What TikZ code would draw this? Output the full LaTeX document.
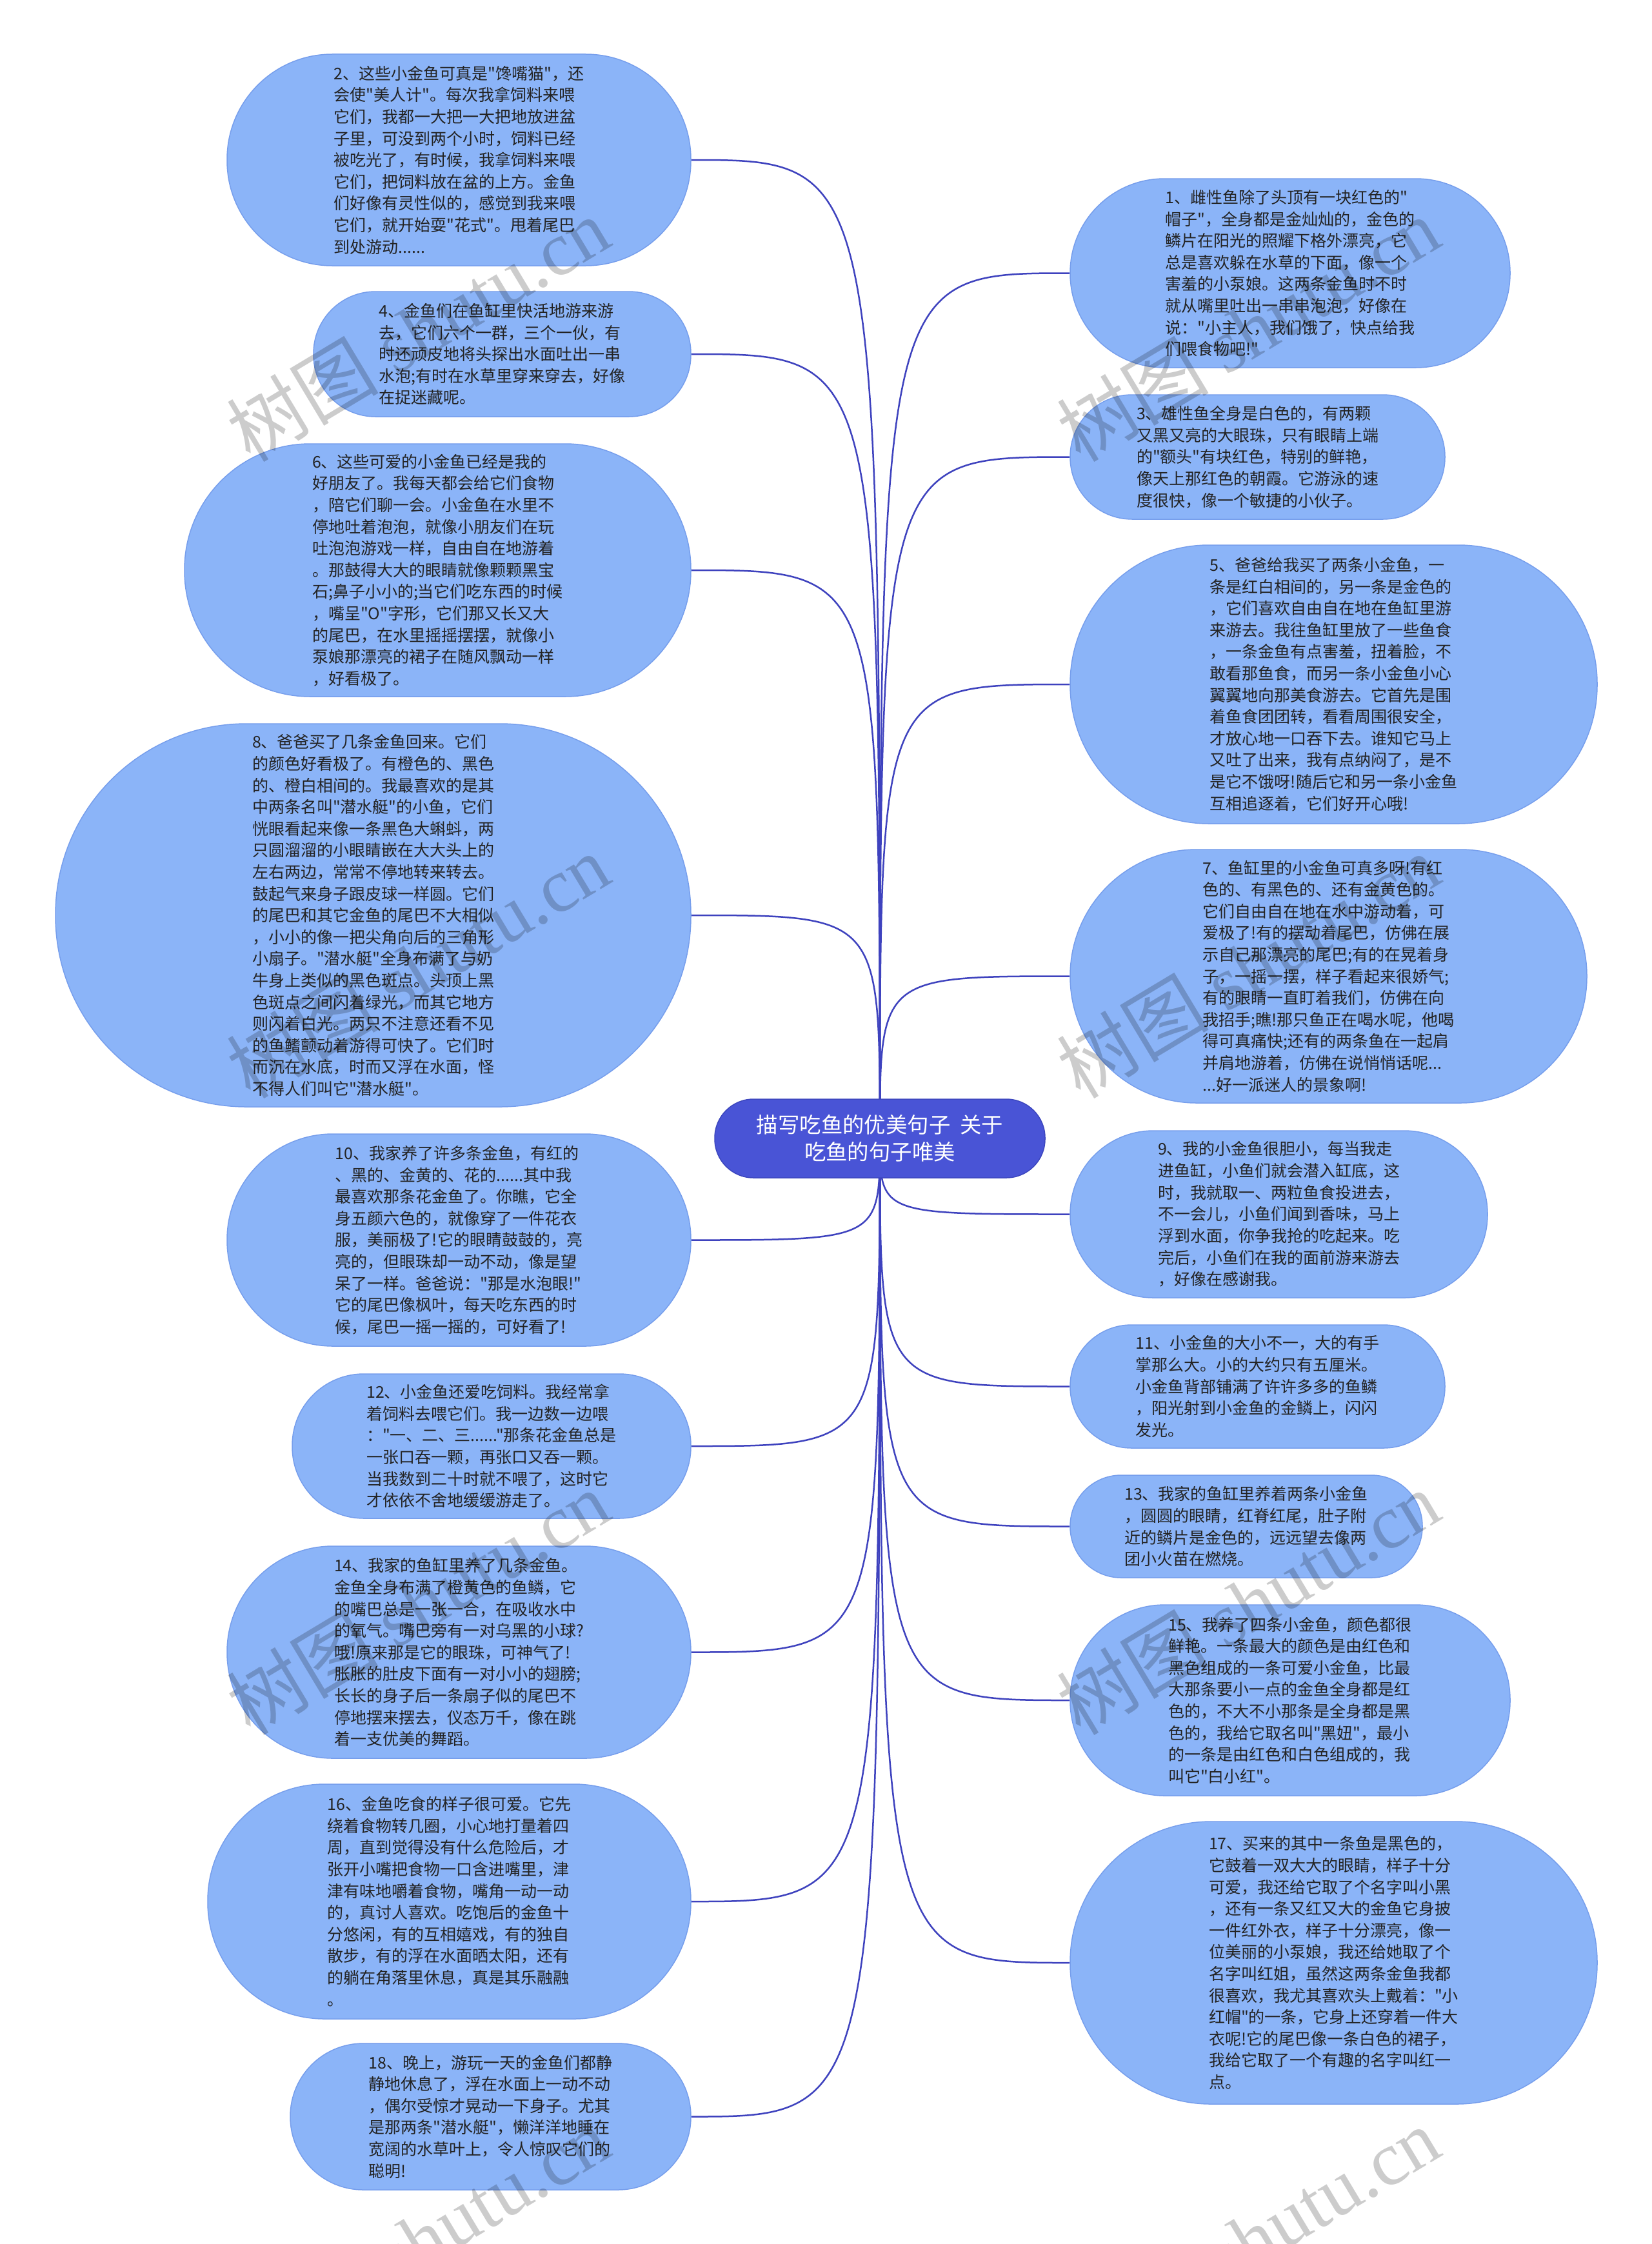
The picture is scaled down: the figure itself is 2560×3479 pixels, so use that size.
\documentclass[tikz,border=0pt]{standalone}
\usepackage{fontspec}
\setmainfont{Noto Sans CJK SC}[Ligatures=TeXOff]
\newfontfamily\wmlatin{Liberation Serif}
\newfontfamily\wmcjk{Noto Sans CJK SC}
\usetikzlibrary{backgrounds}
\definecolor{leaffill}{RGB}{139,180,248}
\definecolor{leafline}{RGB}{118,158,236}
\definecolor{rootfill}{RGB}{73,84,214}
\definecolor{rootline}{RGB}{60,70,190}
\definecolor{linkcol}{RGB}{62,66,190}
\definecolor{txtcol}{RGB}{35,35,35}
\newcommand\leafsize{\fontsize{25pt}{33.6pt}\selectfont}
\newcommand\rootsize{\fontsize{33.4pt}{42pt}\selectfont}
\newcommand\wmsize{\fontsize{118pt}{118pt}\selectfont}
\tikzset{
  leaf/.style={draw=leafline, fill=leaffill, line width=1.5pt, text=txtcol,
    align=left, font=\leafsize, inner sep=0pt},
  rootbox/.style={draw=rootline, fill=rootfill, line width=1.5pt, text=white,
    align=center, font=\rootsize, inner sep=0pt},
  link/.style={draw=linkcol, line width=2.5pt},
  wm/.style={text=black, text opacity=0.2, rotate=31, font=\wmsize, inner sep=0pt}
}
\begin{document}
\begin{tikzpicture}[x=1pt,y=-1pt]
\useasboundingbox (0,0) rectangle (2560,3479);

% root
\node[rootbox, minimum width=512pt, minimum height=122pt, rounded corners=60pt] (c) at (1364,1765)
  {描写吃鱼的优美句子~~关于\\吃鱼的句子唯美};

% left column
\node[leaf, minimum width=719pt, minimum height=328pt, rounded corners=163pt] (n2) at (711.5,248) {%
2、这些小金鱼可真是"馋嘴猫"，还\\
会使"美人计"。每次我拿饲料来喂\\
它们，我都一大把一大把地放进盆\\
子里，可没到两个小时，饲料已经\\
被吃光了，有时候，我拿饲料来喂\\
它们，把饲料放在盆的上方。金鱼\\
们好像有灵性似的，感觉到我来喂\\
它们，就开始耍"花式"。甩着尾巴\\
到处游动......};

\node[leaf, minimum width=585pt, minimum height=194pt, rounded corners=96pt] (n4) at (778.5,549) {%
4、金鱼们在鱼缸里快活地游来游\\
去，它们六个一群，三个一伙，有\\
时还顽皮地将头探出水面吐出一串\\
水泡;有时在水草里穿来穿去，好像\\
在捉迷藏呢。};

\node[leaf, minimum width=785pt, minimum height=392pt, rounded corners=195pt] (n6) at (678.5,884) {%
6、这些可爱的小金鱼已经是我的\\
好朋友了。我每天都会给它们食物\\
，陪它们聊一会。小金鱼在水里不\\
停地吐着泡泡，就像小朋友们在玩\\
吐泡泡游戏一样，自由自在地游着\\
。那鼓得大大的眼睛就像颗颗黑宝\\
石;鼻子小小的;当它们吃东西的时候\\
，嘴呈"O"字形，它们那又长又大\\
的尾巴，在水里摇摇摆摆，就像小\\
泵娘那漂亮的裙子在随风飘动一样\\
，好看极了。};

\node[leaf, minimum width=985pt, minimum height=594pt, rounded corners=296pt] (n8) at (578.5,1419) {%
8、爸爸买了几条金鱼回来。它们\\
的颜色好看极了。有橙色的、黑色\\
的、橙白相间的。我最喜欢的是其\\
中两条名叫"潜水艇"的小鱼，它们\\
恍眼看起来像一条黑色大蝌蚪，两\\
只圆溜溜的小眼睛嵌在大大头上的\\
左右两边，常常不停地转来转去。\\
鼓起气来身子跟皮球一样圆。它们\\
的尾巴和其它金鱼的尾巴不大相似\\
，小小的像一把尖角向后的三角形\\
小扇子。"潜水艇"全身布满了与奶\\
牛身上类似的黑色斑点。头顶上黑\\
色斑点之间闪着绿光，而其它地方\\
则闪着白光。两只不注意还看不见\\
的鱼鳍颤动着游得可快了。它们时\\
而沉在水底，时而又浮在水面，怪\\
不得人们叫它"潜水艇"。};

\node[leaf, minimum width=719pt, minimum height=329pt, rounded corners=164pt] (n10) at (711.5,1922.5) {%
10、我家养了许多条金鱼，有红的\\
、黑的、金黄的、花的......其中我\\
最喜欢那条花金鱼了。你瞧，它全\\
身五颜六色的，就像穿了一件花衣\\
服，美丽极了!它的眼睛鼓鼓的，亮\\
亮的，但眼珠却一动不动，像是望\\
呆了一样。爸爸说："那是水泡眼!"\\
它的尾巴像枫叶，每天吃东西的时\\
候，尾巴一摇一摇的，可好看了!};

\node[leaf, minimum width=618pt, minimum height=224pt, rounded corners=111pt] (n12) at (762,2242) {%
12、小金鱼还爱吃饲料。我经常拿\\
着饲料去喂它们。我一边数一边喂\\
："一、二、三......"那条花金鱼总是\\
一张口吞一颗，再张口又吞一颗。\\
当我数到二十时就不喂了，这时它\\
才依依不舍地缓缓游走了。};

\node[leaf, minimum width=719pt, minimum height=329pt, rounded corners=164pt] (n14) at (711.5,2561.5) {%
14、我家的鱼缸里养了几条金鱼。\\
金鱼全身布满了橙黄色的鱼鳞，它\\
的嘴巴总是一张一合，在吸收水中\\
的氧气。嘴巴旁有一对乌黑的小球?\\
哦!原来那是它的眼珠，可神气了!\\
胀胀的肚皮下面有一对小小的翅膀;\\
长长的身子后一条扇子似的尾巴不\\
停地摆来摆去，仪态万千，像在跳\\
着一支优美的舞蹈。};

\node[leaf, minimum width=749pt, minimum height=364pt, rounded corners=181pt] (n16) at (696.5,2948) {%
16、金鱼吃食的样子很可爱。它先\\
绕着食物转几圈，小心地打量着四\\
周，直到觉得没有什么危险后，才\\
张开小嘴把食物一口含进嘴里，津\\
津有味地嚼着食物，嘴角一动一动\\
的，真讨人喜欢。吃饱后的金鱼十\\
分悠闲，有的互相嬉戏，有的独自\\
散步，有的浮在水面晒太阳，还有\\
的躺在角落里休息，真是其乐融融\\
。};

\node[leaf, minimum width=621pt, minimum height=227pt, rounded corners=113pt] (n18) at (760.5,3281.5) {%
18、晚上，游玩一天的金鱼们都静\\
静地休息了，浮在水面上一动不动\\
，偶尔受惊才晃动一下身子。尤其\\
是那两条"潜水艇"，懒洋洋地睡在\\
宽阔的水草叶上，令人惊叹它们的\\
聪明!};

% right column
\node[leaf, minimum width=682pt, minimum height=293pt, rounded corners=146pt] (n1) at (2000,423.5) {%
1、雌性鱼除了头顶有一块红色的"\\
帽子"，全身都是金灿灿的，金色的\\
鳞片在阳光的照耀下格外漂亮，它\\
总是喜欢躲在水草的下面，像一个\\
害羞的小泵娘。这两条金鱼时不时\\
就从嘴里吐出一串串泡泡，好像在\\
说："小主人，我们饿了，快点给我\\
们喂食物吧!"};

\node[leaf, minimum width=581pt, minimum height=193pt, rounded corners=96pt] (n3) at (1949.5,708.5) {%
3、雄性鱼全身是白色的，有两颗\\
又黑又亮的大眼珠，只有眼睛上端\\
的"额头"有块红色，特别的鲜艳，\\
像天上那红色的朝霞。它游泳的速\\
度很快，像一个敏捷的小伙子。};

\node[leaf, minimum width=817pt, minimum height=432pt, rounded corners=215pt] (n5) at (2067.5,1061) {%
5、爸爸给我买了两条小金鱼，一\\
条是红白相间的，另一条是金色的\\
，它们喜欢自由自在地在鱼缸里游\\
来游去。我往鱼缸里放了一些鱼食\\
，一条金鱼有点害羞，扭着脸，不\\
敢看那鱼食，而另一条小金鱼小心\\
翼翼地向那美食游去。它首先是围\\
着鱼食团团转，看看周围很安全，\\
才放心地一口吞下去。谁知它马上\\
又吐了出来，我有点纳闷了，是不\\
是它不饿呀!随后它和另一条小金鱼\\
互相追逐着，它们好开心哦!};

\node[leaf, minimum width=801pt, minimum height=393pt, rounded corners=196pt] (n7) at (2059.5,1513.5) {%
7、鱼缸里的小金鱼可真多呀!有红\\
色的、有黑色的、还有金黄色的。\\
它们自由自在地在水中游动着，可\\
爱极了!有的摆动着尾巴，仿佛在展\\
示自己那漂亮的尾巴;有的在晃着身\\
子，一摇一摆，样子看起来很娇气;\\
有的眼睛一直盯着我们，仿佛在向\\
我招手;瞧!那只鱼正在喝水呢，他喝\\
得可真痛快;还有的两条鱼在一起肩\\
并肩地游着，仿佛在说悄悄话呢...\\
...好一派迷人的景象啊!};

\node[leaf, minimum width=647pt, minimum height=259pt, rounded corners=129pt] (n9) at (1982.5,1882.5) {%
9、我的小金鱼很胆小，每当我走\\
进鱼缸，小鱼们就会潜入缸底，这\\
时，我就取一、两粒鱼食投进去，\\
不一会儿，小鱼们闻到香味，马上\\
浮到水面，你争我抢的吃起来。吃\\
完后，小鱼们在我的面前游来游去\\
，好像在感谢我。};

\node[leaf, minimum width=581pt, minimum height=191pt, rounded corners=95pt] (n11) at (1949.5,2149.5) {%
11、小金鱼的大小不一，大的有手\\
掌那么大。小的大约只有五厘米。\\
小金鱼背部铺满了许许多多的鱼鳞\\
，阳光射到小金鱼的金鳞上，闪闪\\
发光。};

\node[leaf, minimum width=546pt, minimum height=159pt, rounded corners=79pt] (n13) at (1932,2366.5) {%
13、我家的鱼缸里养着两条小金鱼\\
，圆圆的眼睛，红脊红尾，肚子附\\
近的鳞片是金色的，远远望去像两\\
团小火苗在燃烧。};

\node[leaf, minimum width=682pt, minimum height=296pt, rounded corners=147pt] (n15) at (2000,2636) {%
15、我养了四条小金鱼，颜色都很\\
鲜艳。一条最大的颜色是由红色和\\
黑色组成的一条可爱小金鱼，比最\\
大那条要小一点的金鱼全身都是红\\
色的，不大不小那条是全身都是黑\\
色的，我给它取名叫"黑妞"，最小\\
的一条是由红色和白色组成的，我\\
叫它"白小红"。};

\node[leaf, minimum width=817pt, minimum height=438pt, rounded corners=218pt] (n17) at (2067.5,3043) {%
17、买来的其中一条鱼是黑色的，\\
它鼓着一双大大的眼睛，样子十分\\
可爱，我还给它取了个名字叫小黑\\
，还有一条又红又大的金鱼它身披\\
一件红外衣，样子十分漂亮，像一\\
位美丽的小泵娘，我还给她取了个\\
名字叫红姐，虽然这两条金鱼我都\\
很喜欢，我尤其喜欢头上戴着："小\\
红帽"的一条，它身上还穿着一件大\\
衣呢!它的尾巴像一条白色的裙子，\\
我给它取了一个有趣的名字叫红一\\
点。};

\begin{pgfonlayer}{background}
  \fill[white] (0,0) rectangle (2560,3479);
  \foreach \n in {n2,n4,n6,n8,n10,n12,n14,n16,n18}
    \draw[link] (c.center) .. controls (c.center |- \n.east) .. (\n.east);
  \foreach \n in {n1,n3,n5,n7,n9,n11,n13,n15,n17}
    \draw[link] (c.center) .. controls (c.center |- \n.west) .. (\n.west);
\end{pgfonlayer}

% watermarks
\foreach \wx in {648,1935}
  \foreach \wy in {510,1497,2484,3471}
    \node[wm] (wm-\wx-\wy) at (\wx,\wy) {{\wmcjk 树图} {\wmlatin shutu.cn}};
\end{tikzpicture}
\end{document}
